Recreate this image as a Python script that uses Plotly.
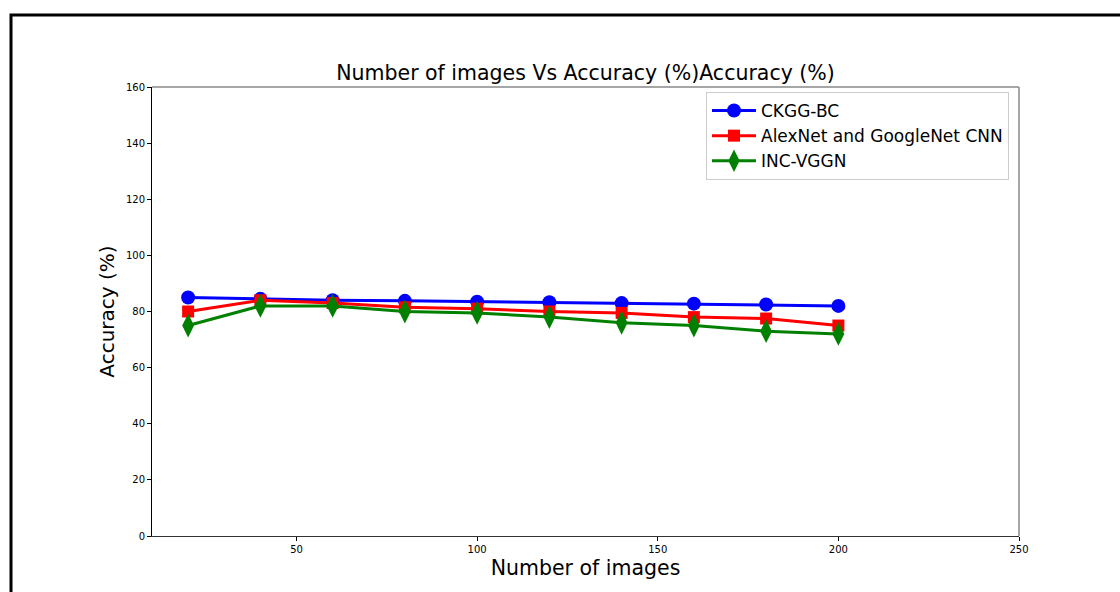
import plotly.graph_objects as go

images = [20, 40, 60, 80, 100, 120, 140, 160, 180, 200]
ckgg_bc = [85, 84.5, 84, 83.8, 83.5, 83.3, 83, 82.8, 82.5, 82]
alexnet_googlenet = [80, 84, 83, 81.5, 81, 80, 79.5, 78, 77.5, 75]
inc_vggn = [75, 82, 82, 80, 79.5, 78, 76, 75, 73, 72]

x_ticks = [50, 100, 150, 200, 250]
y_ticks = [0, 20, 40, 60, 80, 100, 120, 140, 160]

FONT = "DejaVu Sans"

fig = go.Figure()
fig.add_trace(go.Scatter(x=images, y=ckgg_bc, mode="lines+markers", name="CKGG-BC",
                         line=dict(color="#0000ff", width=3),
                         marker=dict(symbol="circle", size=14, color="#0000ff")))
fig.add_trace(go.Scatter(x=images, y=alexnet_googlenet, mode="lines+markers",
                         name="AlexNet and GoogleNet CNN",
                         line=dict(color="#ff0000", width=3),
                         marker=dict(symbol="square", size=12, color="#ff0000")))
fig.add_trace(go.Scatter(x=images, y=inc_vggn, mode="lines+markers", name="INC-VGGN",
                         line=dict(color="#008000", width=3),
                         marker=dict(symbol="diamond-tall", size=17, color="#008000")))

L, R, T, B = 152, 1019, 87, 536
W, H = 1120, 592
pw, ph = R - L, B - T

fig.update_layout(
    width=W, height=H,
    margin=dict(l=L, r=W - R, t=T, b=H - B),
    paper_bgcolor="white", plot_bgcolor="white",
    font=dict(family=FONT, color="black"),
    title=dict(text="Number of images Vs Accuracy (%)Accuracy (%)",
               x=(L + R) / 2 / W, xanchor="center",
               y=1 - 73 / H, yanchor="middle", yref="container",
               font=dict(size=20.5, family=FONT, color="black")),
    showlegend=True,
    legend=dict(x=(706 - L) / pw, y=(B - 92) / ph, xanchor="left", yanchor="top",
                bgcolor="white", bordercolor="#cccccc", borderwidth=1,
                itemwidth=44, tracegroupgap=0,
                font=dict(size=17, family=FONT, color="black")),
    xaxis=dict(range=[10, 250], tickvals=x_ticks, showgrid=False, zeroline=False,
               showline=True, linecolor="#333333", linewidth=1, mirror=False,
               ticks="outside", ticklen=4, tickcolor="black",
               tickfont=dict(size=10, family=FONT),
               title=dict(text="Number of images", font=dict(size=20.5, family=FONT),
                          standoff=6)),
    yaxis=dict(range=[0, 160], tickvals=y_ticks, showgrid=False, zeroline=False,
               showline=True, linecolor="black", linewidth=1, mirror=False,
               ticks="outside", ticklen=4, tickcolor="black",
               tickfont=dict(size=10, family=FONT),
               title=dict(text="Accuracy (%)", font=dict(size=20, family=FONT),
                          standoff=5)),
    shapes=[
        dict(type="rect", xref="paper", yref="paper",
             x0=(11 - L) / pw, x1=(W + 20 - L) / pw,
             y0=(B - (H + 20)) / ph, y1=(B - 15) / ph,
             line=dict(color="black", width=3), fillcolor="rgba(0,0,0,0)",
             layer="below"),
        dict(type="line", xref="paper", yref="paper", x0=0, x1=1, y0=1, y1=1,
             line=dict(color="#888888", width=1.5)),
        dict(type="line", xref="paper", yref="paper", x0=1, x1=1, y0=0, y1=1,
             line=dict(color="#888888", width=1.5)),
    ],
)

fig.write_html("out.html")
